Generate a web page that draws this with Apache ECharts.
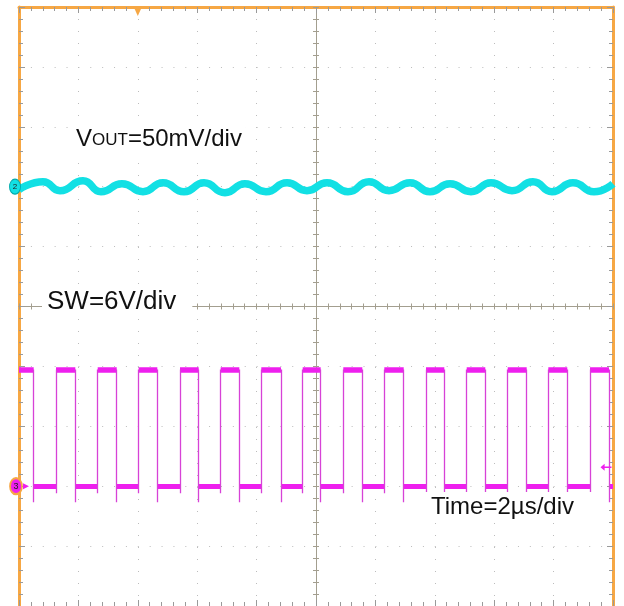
<!DOCTYPE html>
<html>
<head>
<meta charset="utf-8">
<script src="https://cdn.jsdelivr.net/npm/echarts@6/dist/echarts.min.js"></script>
<style>
html,body{margin:0;padding:0;background:#fff;}
#c{width:624px;height:606px;}
</style>
</head>
<body>
<div id="c"></div>
<script>
// ---- data ----
// time axis in µs (2 µs/div, 10 div)
const timeMin = 0, timeMax = 20, timeDiv = 2;
// SW node (6 V/div), ground marker 3 div below centre
const swRise = [1.246, 2.650, 4.030, 5.421, 6.791, 8.158, 9.552, 10.919, 12.300, 13.704, 15.074, 16.455, 17.822, 19.226];
const swFall = [0.495, 1.896, 3.290, 4.657, 6.051, 7.418, 8.822, 10.158, 11.559, 12.953, 14.320, 15.700, 17.094, 18.461, 19.865];
const swHigh = 11.7;        // V
const swLow = 0;            // V
const swUndershoot = -1.6;  // V, bottom of falling-edge spike
const swRiseFoot = -0.7;    // V, foot of rising edge
const swTrigLevel = 1.9;    // V, right-side arrow
const trigTime = 4.0;       // µs, trigger marker on top
// VOUT ripple (50 mV/div, AC, relative to channel-2 marker) : extrema
const voutT = [0, 0.808, 1.380, 2.155, 2.761, 3.468, 4.175, 4.848, 5.556, 6.229, 6.936, 7.609, 8.316, 9.024, 9.697,
  10.370, 11.077, 11.785, 12.458, 13.165, 13.838, 14.512, 15.219, 15.892, 16.599, 17.306, 17.946, 18.653, 19.360, 20.0];
const voutMv = [-2.5, 4.2, -3.3, 5.0, -4.2, 2.5, -4.2, 3.3, -4.2, 3.3, -5.0, 2.5, -4.2, 3.3, -3.3,
  3.3, -4.2, 4.2, -3.3, 3.3, -4.2, 2.5, -4.2, 3.3, -3.3, 4.2, -4.2, 3.3, -4.2, 2.5];

// ---- build marks ----
const voutData = voutT.map((t, i) => [t, voutMv[i]]);
const highSegs = [];
const lowSegs = [];
const edgeSegs = [];
highSegs.push([[timeMin, swHigh], [swFall[0], swHigh]]);
for (let i = 0; i < swRise.length; i++) {
  highSegs.push([[swRise[i], swHigh], [swFall[i + 1], swHigh]]);
}
for (let i = 0; i < swFall.length; i++) {
  const end = i < swRise.length ? swRise[i] : timeMax;
  lowSegs.push([[swFall[i], swLow], [end, swLow]]);
  edgeSegs.push([[swFall[i], swHigh], [swFall[i], swUndershoot]]);
}
for (let i = 0; i < swRise.length; i++) {
  edgeSegs.push([[swRise[i], swRiseFoot], [swRise[i], swHigh]]);
}

const ORANGE = '#f6a744';
const TICK = '#9a9a9a';
const CENTER = '#a39e8f';
const GRIDDOT = '#bcbcbc';
const CYAN = '#12e0e4';
const MAG = '#ee1fee';
const FONT = 'Liberation Sans';

const hidden = {show: false};
function edgeAxis(extra) {
  return Object.assign({
    type: 'value', axisLabel: hidden, splitLine: hidden,
    axisLine: {show: true, onZero: false, lineStyle: {color: ORANGE, width: 3}},
    axisTick: {show: true, inside: true, length: 6, lineStyle: {color: TICK}},
    minorTick: {show: true, splitNumber: 5, length: 4, lineStyle: {color: TICK}}
  }, extra);
}
function centerAxis(extra, inside) {
  return Object.assign({
    type: 'value', axisLabel: hidden, splitLine: hidden,
    axisLine: {show: true, onZero: true, lineStyle: {color: CENTER, width: 1}},
    axisTick: {show: true, inside: inside, length: 3, lineStyle: {color: CENTER}},
    minorTick: {show: true, splitNumber: 5, length: 3, lineStyle: {color: CENTER}}
  }, extra);
}

const chart = echarts.init(document.getElementById('c'), null, {renderer: 'canvas'});
const option = {
  animation: false,
  backgroundColor: '#ffffff',
  grid: {left: 19, top: 7, width: 594, height: 600, containLabel: false},
  xAxis: [
    // 0: bottom edge, carries the dotted vertical grid
    edgeAxis({position: 'bottom', min: timeMin, max: timeMax, interval: timeDiv,
      axisLine: {show: false, onZero: false},
      splitLine: {show: true, showMinLine: false, showMaxLine: false,
        lineStyle: {color: GRIDDOT, width: 1, type: [1, 11]}}}),
    // 1: top edge
    edgeAxis({position: 'top', min: timeMin, max: timeMax, interval: timeDiv}),
    // 2,3: centre horizontal axis with crossing ticks
    centerAxis({position: 'bottom', min: -10, max: 10, interval: 2,
      axisLine: {show: true, onZero: true, onZeroAxisIndex: 2, lineStyle: {color: CENTER, width: 1}}}, false),
    centerAxis({position: 'bottom', min: -10, max: 10, interval: 2,
      axisLine: {show: true, onZero: true, onZeroAxisIndex: 2, lineStyle: {color: CENTER, width: 1}}}, true)
  ],
  yAxis: [
    // 0: VOUT 50 mV/div, left edge, dotted horizontal grid
    edgeAxis({position: 'left', min: -350, max: 150, interval: 50,
      splitLine: {show: true, showMinLine: false, showMaxLine: false,
        lineStyle: {color: GRIDDOT, width: 1, type: [1, 10.88]}}}),
    // 1: SW 6 V/div, right edge
    edgeAxis({position: 'right', min: -12, max: 48, interval: 6}),
    // 2,3: centre vertical axis with crossing ticks
    centerAxis({position: 'left', min: -5, max: 5, interval: 1,
      axisLine: {show: true, onZero: true, onZeroAxisIndex: 2, lineStyle: {color: CENTER, width: 1}}}, false),
    centerAxis({position: 'left', min: -5, max: 5, interval: 1,
      axisLine: {show: true, onZero: true, onZeroAxisIndex: 2, lineStyle: {color: CENTER, width: 1}}}, true)
  ],
  title: [
    {left: 72, top: 125, padding: [2, 4, 2, 4], backgroundColor: '#fff',
      text: '{a|V}{b|OUT}{a|=50mV/div}',
      textStyle: {fontWeight: 'normal', rich: {
        a: {fontFamily: FONT, fontSize: 24, fontWeight: 'normal', color: '#111'},
        b: {fontFamily: FONT, fontSize: 17, fontWeight: 'normal', color: '#111', verticalAlign: 'bottom', padding: [0, 0, 2, 0]}
      }}},
    {left: 42, top: 286, padding: [3, 16, 3, 5], backgroundColor: '#fff',
      text: 'SW=6V/div',
      textStyle: {fontFamily: FONT, fontSize: 26, fontWeight: 'normal', color: '#111'}},
    {left: 406, top: 492, padding: [3, 26, 3, 25], backgroundColor: '#fff',
      text: 'Time=2\u00b5s/div',
      textStyle: {fontFamily: FONT, fontSize: 24, fontWeight: 'normal', color: '#111'}}
  ],
  series: [
    {
      type: 'line', name: 'VOUT', xAxisIndex: 0, yAxisIndex: 0,
      data: voutData, smooth: 0.55, showSymbol: false, z: 3,
      lineStyle: {color: CYAN, width: 7.5},
      markPoint: {
        silent: true,
        data: [{coord: [timeMin, 0], symbol: 'circle', symbolSize: [11, 15], symbolOffset: [-4, 0],
          itemStyle: {color: CYAN, borderColor: '#0aa', borderWidth: 1},
          label: {show: true, formatter: '2', fontSize: 8, color: '#222'}}]
      }
    },
    {
      type: 'lines', name: 'SW high', coordinateSystem: 'cartesian2d', xAxisIndex: 0, yAxisIndex: 1,
      data: highSegs.map(s => ({coords: s})), z: 3,
      lineStyle: {color: MAG, width: 5.5, opacity: 1, curveness: 0}
    },
    {
      type: 'lines', name: 'SW low', coordinateSystem: 'cartesian2d', xAxisIndex: 0, yAxisIndex: 1,
      data: lowSegs.map(s => ({coords: s})), z: 3,
      lineStyle: {color: MAG, width: 5, opacity: 1, curveness: 0}
    },
    {
      type: 'lines', name: 'SW edges', coordinateSystem: 'cartesian2d', xAxisIndex: 0, yAxisIndex: 1,
      data: edgeSegs.map(s => ({coords: s})), z: 3,
      lineStyle: {color: '#d742d7', width: 1.3, opacity: 1, curveness: 0}
    },
    {
      type: 'line', name: 'SW markers', xAxisIndex: 0, yAxisIndex: 1, data: [], z: 5,
      markPoint: {
        silent: true, z: 10,
        data: [
          {coord: [timeMin, swLow], symbol: 'circle', symbolSize: [12, 16], symbolOffset: [-3, 0],
            itemStyle: {color: MAG, borderColor: ORANGE, borderWidth: 2},
            label: {show: true, formatter: '3', fontSize: 9, color: '#222'}},
          {coord: [timeMin, swLow], symbol: 'triangle', symbolRotate: -90, symbolSize: [6, 6], symbolOffset: [7, 0],
            itemStyle: {color: MAG}, label: {show: false}},
          {coord: [timeMax, swTrigLevel], symbol: 'path://M0,5 L6,0 L6,4 L16,4 L16,6 L6,6 L6,10 Z',
            symbolSize: [11, 7], symbolOffset: [-7, 0], itemStyle: {color: MAG}, label: {show: false}},
          {coord: [trigTime, 48], symbol: 'triangle', symbolRotate: 180, symbolSize: [9, 10], symbolOffset: [0, 4],
            itemStyle: {color: ORANGE, opacity: 1}, label: {show: false}}
        ]
      }
    }
  ]
};
chart.setOption(option);
</script>
</body>
</html>
